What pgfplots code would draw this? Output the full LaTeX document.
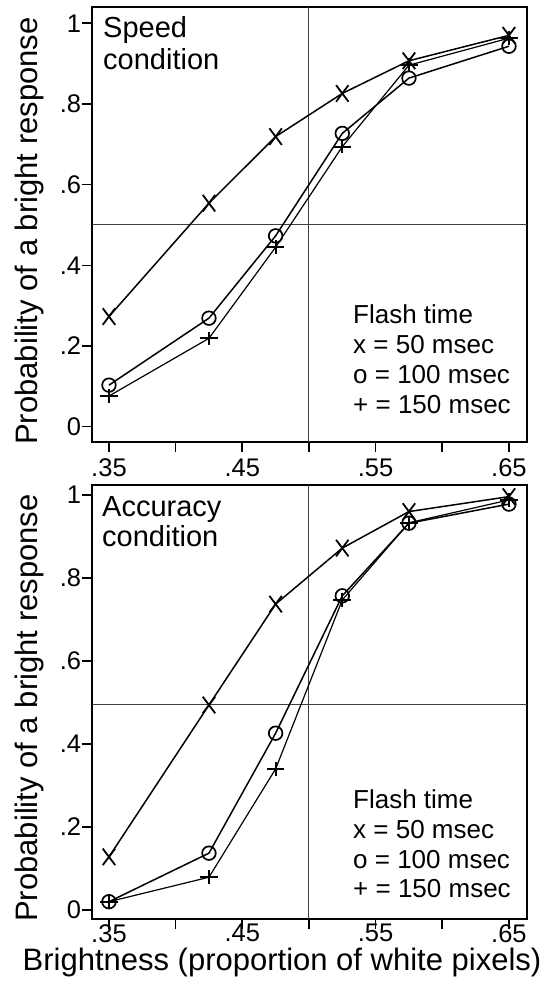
\documentclass[border=0pt]{standalone}
\usepackage{fontspec}
\setmainfont{Liberation Sans}
\usepackage{pgfplots}
\pgfplotsset{compat=1.18}
\pgfplotsset{
  panel/.style={
    scale only axis, width=434.5pt,
    xmin=0.3375, xmax=0.6634,
    xtick={0.35,0.40,0.45,0.50,0.55,0.60,0.65},
    xticklabels={.35,,.45,,.55,,.65},
    ytick={0,0.2,0.4,0.6,0.8,1},
    yticklabels={0,.2,.4,.6,.8,1},
    tick align=outside, major tick length=10pt,
    xtick pos=bottom, ytick pos=left,
    every tick/.style={line width=1.6pt, black},
    axis line style={line width=2pt},
    ticklabel style={font=\fontsize{25.5}{30}\selectfont, inner sep=0pt},
    yticklabel style={xshift=-1pt},
    label style={font=\fontsize{31}{36}\selectfont, inner sep=0pt},
    ylabel={Probability of a bright response},
  },
  sx/.style={black, line width=1.5pt, mark=x, mark size=8.8pt, mark options={yscale=1.33, line width=1.8pt}},
  so/.style={black, line width=1.5pt, mark=o, mark size=6.8pt, mark options={line width=1.7pt}},
  sp/.style={black, line width=1.2pt, mark=+, mark size=8pt, mark options={xscale=1.1, yscale=0.85, line width=1.8pt}},
  refl/.style={black!75, line width=1pt},
}
\begin{document}
\begin{tikzpicture}
\path[use as bounding box] (0pt,0pt) rectangle (559pt,-987pt);
% Top panel: speed condition
\begin{axis}[panel, at={(92.3pt,-442.3pt)}, anchor=south west,
  height=435.6pt, ymin=-0.0387, ymax=1.041,
  ylabel style={at={(axis description cs:-0.125,0.485)}, anchor=base},
  xticklabel style={yshift=-6pt}]
\addplot[refl] coordinates {(0.5,-0.0387) (0.5,1.041)};
\addplot[refl] coordinates {(0.3375,0.5) (0.6634,0.5)};
\addplot[sx] coordinates {(0.35,0.273) (0.425,0.554) (0.475,0.719) (0.525,0.826) (0.575,0.907) (0.65,0.970)};
\addplot[so] coordinates {(0.35,0.103) (0.425,0.269) (0.475,0.473) (0.525,0.727) (0.575,0.864) (0.65,0.943)};
\addplot[sp] coordinates {(0.35,0.076) (0.425,0.219) (0.475,0.445) (0.525,0.694) (0.575,0.896) (0.65,0.963)};
\end{axis}
% Bottom panel: accuracy condition
\begin{axis}[panel, at={(92.3pt,-919pt)}, anchor=south west,
  height=434pt, ymin=-0.0217, ymax=1.024,
  ylabel style={at={(axis description cs:-0.125,0.486)}, anchor=base},
  xticklabel style={yshift=5pt},
  xlabel={Brightness (proportion of white pixels)},
  xlabel style={at={(axis description cs:0.4366,-0.1175)}, anchor=base}]
\addplot[refl] coordinates {(0.5,-0.0217) (0.5,1.024)};
\addplot[refl] coordinates {(0.3375,0.494) (0.6634,0.494)};
\addplot[sx] coordinates {(0.35,0.128) (0.425,0.494) (0.475,0.737) (0.525,0.872) (0.575,0.960) (0.65,0.996)};
\addplot[so] coordinates {(0.35,0.020) (0.425,0.137) (0.475,0.426) (0.525,0.757) (0.575,0.932) (0.65,0.978)};
\addplot[sp] coordinates {(0.35,0.020) (0.425,0.079) (0.475,0.340) (0.525,0.747) (0.575,0.933) (0.65,0.988)};
\end{axis}
% panel titles
\begin{scope}[every node/.style={anchor=base west, inner sep=0pt, font=\fontsize{29}{32}\selectfont}]
\node at (103pt,-38pt) {Speed};
\node at (103pt,-70pt) {condition};
\node at (102pt,-516.7pt) {Accuracy};
\node at (102pt,-546.7pt) {condition};
\end{scope}
\begin{scope}[every node/.style={anchor=base west, inner sep=0pt, font=\fontsize{26}{30}\selectfont}]
\node at (353pt,-323pt) {Flash time};
\node at (353pt,-353pt) {x = 50 msec};
\node at (353pt,-383pt) {o = 100 msec};
\node at (353pt,-413pt) {+ = 150 msec};
\node at (353pt,-808pt) {Flash time};
\node at (353pt,-838pt) {x = 50 msec};
\node at (353pt,-868pt) {o = 100 msec};
\node at (353pt,-897pt) {+ = 150 msec};
\end{scope}
\end{tikzpicture}
\end{document}
